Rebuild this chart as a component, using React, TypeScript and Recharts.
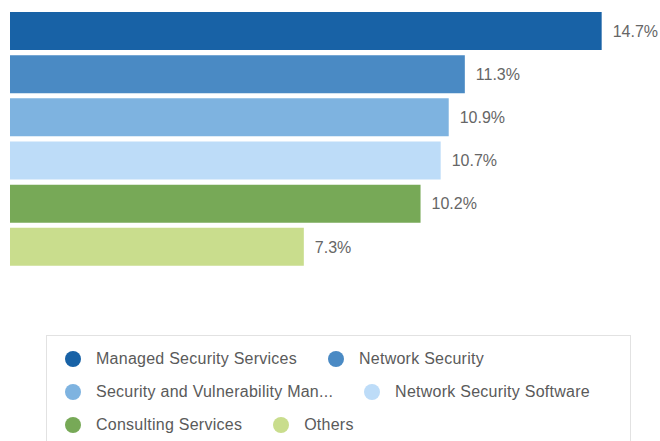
import React from "react";
import { BarChart, Bar, XAxis, YAxis, Cell, LabelList } from "recharts";

const categories = [
  "Managed Security Services",
  "Network Security",
  "Security and Vulnerability Man...",
  "Network Security Software",
  "Consulting Services",
  "Others",
];
const shares = [14.7, 11.3, 10.9, 10.7, 10.2, 7.3];
const colors = ["#1862a6", "#4a8ac4", "#7eb3e0", "#bddcf8", "#77a957", "#c9dd8d"];
const legendRows = [
  [0, 1],
  [2, 3],
  [4, 5],
];

const data = categories.map((name, i) => ({ name, value: shares[i] }));

const FONT = '"Liberation Sans", Arial, sans-serif';

export default function App() {
  return (
    <div
      style={{
        position: "absolute",
        left: 0,
        top: 0,
        width: 660,
        height: 441,
        background: "#fff",
        overflow: "hidden",
        fontFamily: FONT,
      }}
    >
      <BarChart
        width={660}
        height={280}
        data={data}
        layout="vertical"
        margin={{ top: 9, right: 6, bottom: 12, left: 10 }}
      >
        <XAxis type="number" domain={[0, 16]} hide />
        <YAxis type="category" dataKey="name" hide />
        <Bar dataKey="value" barSize={38} isAnimationActive={false}>
          {data.map((d, i) => (
            <Cell key={d.name} fill={colors[i]} />
          ))}
          <LabelList
            dataKey="value"
            position="right"
            offset={11}
            formatter={(v: number) => `${v}%`}
            style={{ fill: "#666", fontSize: 16, fontFamily: FONT }}
          />
        </Bar>
      </BarChart>
      <div
        style={{
          position: "absolute",
          left: 46,
          top: 335,
          width: 585,
          height: 130,
          border: "1px solid #e2e2e2",
          boxSizing: "border-box",
          paddingTop: 6,
          paddingLeft: 18,
        }}
      >
        {legendRows.map((row, r) => (
          <div key={r} style={{ display: "flex", alignItems: "center", height: 33 }}>
            {row.map((i) => (
              <div key={i} style={{ display: "flex", alignItems: "center", marginRight: 31 }}>
                <span
                  style={{
                    width: 16,
                    height: 16,
                    borderRadius: 8,
                    background: colors[i],
                    display: "inline-block",
                    marginRight: 15,
                  }}
                />
                <span style={{ fontSize: 16, color: "#5a5a5a", letterSpacing: 0.25, whiteSpace: "nowrap" }}>
                  {categories[i]}
                </span>
              </div>
            ))}
          </div>
        ))}
      </div>
    </div>
  );
}
